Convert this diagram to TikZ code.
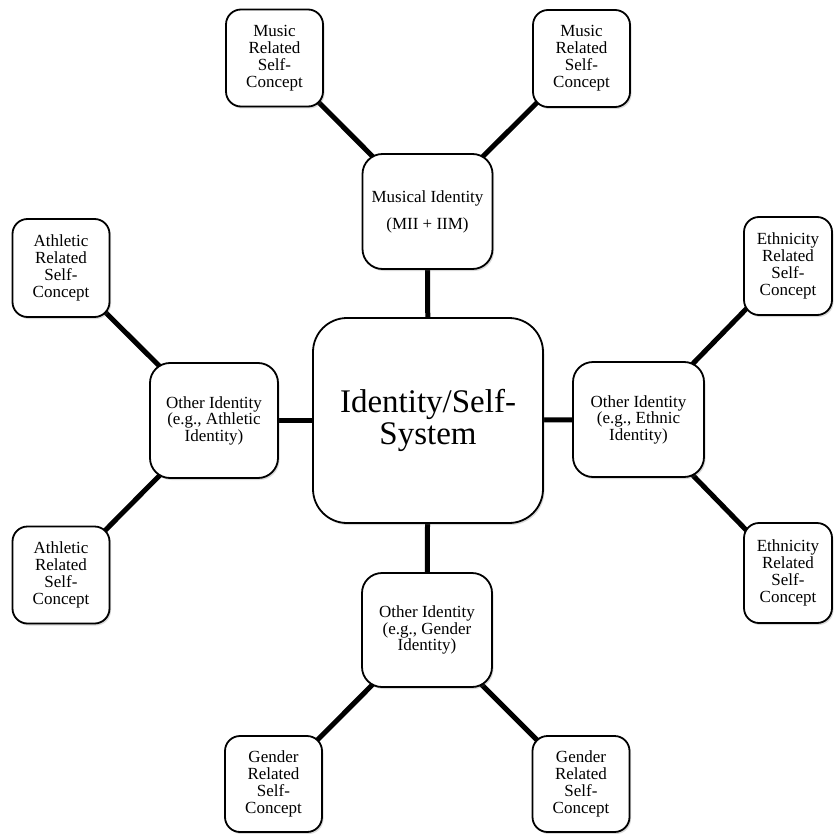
\documentclass[tikz,border=0pt]{standalone}
\usepackage{fontspec}
\setmainfont{Liberation Serif}
\usetikzlibrary{backgrounds,shadows}
\tikzset{
  boxbase/.style={draw=black, line width=1.8pt, fill=white, align=center, inner sep=0pt,
    drop shadow={shadow xshift=1.5pt, shadow yshift=-2pt, opacity=0.25, fill=black!60}},
  smallbox/.style={boxbase, rounded corners=15pt, minimum width=97pt, minimum height=97pt,
    font=\fontsize{17}{17}\selectfont},
  ethbox/.style={smallbox, minimum width=88pt, minimum height=98pt},
  midbox/.style={boxbase, rounded corners=20pt, minimum width=130pt, minimum height=115pt,
    font=\fontsize{17}{16.5}\selectfont},
  mainbox/.style={boxbase, rounded corners=34pt, minimum width=230pt, minimum height=205pt,
    font=\fontsize{33}{32}\selectfont},
  link/.style={line width=5pt, draw=black}
}
\begin{document}
\begin{tikzpicture}[x=1pt, y=-1pt]
\useasboundingbox (0,0) rectangle (833,834);
% central
\node[mainbox] (sys) at (428,420.5) {Identity/Self-\\System};
% middle ring
\node[midbox, font=\fontsize{17}{27}\selectfont] (mus) at (427.5,211.5) {Musical Identity\\(MII + IIM)};
\node[midbox, minimum width=128pt] (ath) at (214,420.5) {Other Identity\\(e.g., Athletic\\Identity)};
\node[midbox, minimum width=131pt] (eth) at (638.5,419.5) {Other Identity\\(e.g., Ethnic\\Identity)};
\node[midbox, minimum height=114pt] (gen) at (427,630) {Other Identity\\(e.g., Gender\\Identity)};
% outer ring
\node[smallbox] (musA) at (274.5,58) {Music\\Related\\Self-\\Concept};
\node[smallbox] (musB) at (581.5,58.5) {Music\\Related\\Self-\\Concept};
\node[smallbox, minimum height=98pt] (athA) at (61,268) {Athletic\\Related\\Self-\\Concept};
\node[smallbox] (athB) at (61,575) {Athletic\\Related\\Self-\\Concept};
\node[ethbox] (ethA) at (788,266) {Ethnicity\\Related\\Self-\\Concept};
\node[ethbox, minimum height=100pt] (ethB) at (788,573) {Ethnicity\\Related\\Self-\\Concept};
\node[smallbox, minimum height=96pt] (genA) at (273.5,784) {Gender\\Related\\Self-\\Concept};
\node[smallbox, minimum height=96pt] (genB) at (581,784) {Gender\\Related\\Self-\\Concept};
% connectors
\begin{scope}[on background layer]
\draw[link] (sys.center) -- (mus.center);
\draw[link] (sys.center) -- (ath.center);
\draw[link] (sys.center) -- (eth.center);
\draw[link] (sys.center) -- (gen.center);
\draw[link] (mus.center) -- (musA.center);
\draw[link] (mus.center) -- (musB.center);
\draw[link] (ath.center) -- (athA.center);
\draw[link] (ath.center) -- (athB.center);
\draw[link] (eth.center) -- (ethA.center);
\draw[link] (eth.center) -- (ethB.center);
\draw[link] (gen.center) -- (genA.center);
\draw[link] (gen.center) -- (genB.center);
\end{scope}
\end{tikzpicture}
\end{document}
